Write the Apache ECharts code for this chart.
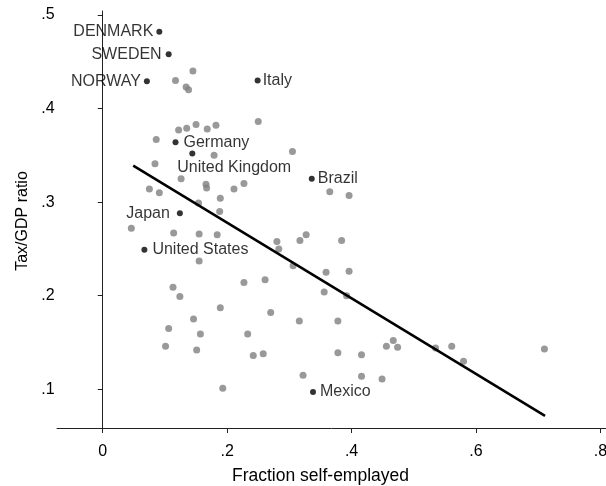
<!DOCTYPE html>
<html>
<head>
<meta charset="utf-8">
<script src="https://cdn.jsdelivr.net/npm/echarts@6/dist/echarts.min.js"></script>
<style>
  html, body { margin: 0; padding: 0; background: #fff; }
  #chart { width: 606px; height: 486px; }
</style>
</head>
<body>
<div id="chart"></div>
<script>
// unlabelled countries [fraction self-employed, tax/GDP]
var otherPoints = [
  [0.117, 0.430], [0.145, 0.440], [0.134, 0.423], [0.138, 0.420], [0.250, 0.386],
  [0.122, 0.377], [0.135, 0.379], [0.150, 0.383], [0.168, 0.378], [0.182, 0.382],
  [0.086, 0.367], [0.179, 0.350], [0.305, 0.354], [0.084, 0.341], [0.365, 0.311],
  [0.396, 0.307], [0.126, 0.325], [0.166, 0.319], [0.167, 0.315], [0.211, 0.314],
  [0.227, 0.320], [0.075, 0.314], [0.091, 0.310], [0.189, 0.304], [0.154, 0.299],
  [0.188, 0.290], [0.046, 0.272], [0.114, 0.267], [0.155, 0.266], [0.184, 0.265],
  [0.155, 0.237], [0.280, 0.258], [0.283, 0.250], [0.317, 0.259], [0.327, 0.265],
  [0.384, 0.259], [0.306, 0.232], [0.359, 0.225], [0.396, 0.226], [0.356, 0.204],
  [0.392, 0.200], [0.227, 0.214], [0.261, 0.217], [0.113, 0.209], [0.124, 0.199],
  [0.189, 0.187], [0.146, 0.175], [0.270, 0.182], [0.316, 0.173], [0.378, 0.173],
  [0.106, 0.165], [0.157, 0.159], [0.233, 0.159], [0.101, 0.146], [0.151, 0.142],
  [0.242, 0.136], [0.258, 0.138], [0.378, 0.139], [0.322, 0.115], [0.193, 0.101],
  [0.467, 0.152], [0.456, 0.146], [0.474, 0.145], [0.535, 0.144], [0.561, 0.146],
  [0.580, 0.130], [0.710, 0.143], [0.416, 0.137], [0.416, 0.114], [0.449, 0.111]
];

// labelled countries
var names = ["DENMARK", "SWEDEN", "NORWAY", "Italy", "Germany", "United Kingdom",
             "Brazil", "Japan", "United States", "Mexico"];
var namedX = [0.091, 0.106, 0.071, 0.249, 0.117, 0.144, 0.336, 0.124, 0.067, 0.338];
var namedY = [0.482, 0.458, 0.429, 0.430, 0.364, 0.352, 0.325, 0.288, 0.249, 0.097];

// fitted line end points
var fitX = [0.049, 0.711];
var fitY = [0.339, 0.0715];

var xTicks = [0, 0.2, 0.4, 0.6, 0.8];
var yTicks = [0.1, 0.2, 0.3, 0.4, 0.5];

// where each label sits (style only)
var labelPos = {
  "DENMARK": { position: "left", distance: 3 },
  "SWEDEN": { position: "left", distance: 4 },
  "NORWAY": { position: "left", distance: 3 },
  "Italy": { position: "right", distance: 2 },
  "Germany": { position: "right", distance: 5 },
  "United Kingdom": { position: "right", distance: 5, offset: [-23, 14] },
  "Brazil": { position: "right", distance: 3 },
  "Japan": { position: "left", distance: 7 },
  "United States": { position: "right", distance: 5 },
  "Mexico": { position: "right", distance: 4 }
};

var FONT = "'Liberation Sans', Arial, sans-serif";

function tickText(v) {
  if (Math.abs(v) < 1e-9) return "0";
  return String(+v.toFixed(2)).replace(/^0\./, ".");
}

var namedData = names.map(function (n, i) {
  var p = labelPos[n];
  return {
    name: n,
    value: [namedX[i], namedY[i]],
    label: { position: p.position, distance: p.distance, offset: p.offset || [0, 0] }
  };
});

var chart = echarts.init(document.getElementById("chart"), null, { renderer: "canvas" });

chart.setOption({
  animation: false,
  backgroundColor: "#fff",
  grid: { left: 57, right: 0, top: 11, bottom: 55, containLabel: false, outerBoundsMode: "none" },
  xAxis: {
    type: "value",
    min: -0.0735,
    max: 0.809,
    offset: -3,
    name: "Fraction self-emplayed",
    nameLocation: "middle",
    nameGap: 39,
    nameTextStyle: { fontFamily: FONT, fontSize: 17.5, color: "#000", padding: [0, 22, 0, 0] },
    axisLine: { show: true, lineStyle: { color: "#222", width: 1 } },
    axisTick: { show: true, customValues: xTicks, length: 5, lineStyle: { color: "#222" } },
    axisLabel: {
      customValues: xTicks, formatter: tickText, margin: 16,
      fontFamily: FONT, fontSize: 16, color: "#000"
    },
    splitLine: { show: false }
  },
  yAxis: {
    type: "value",
    min: 0.0554,
    max: 0.5042,
    offset: -5.7,
    name: "Tax/GDP ratio",
    nameLocation: "middle",
    nameGap: 24,
    nameTextStyle: { fontFamily: FONT, fontSize: 16, color: "#000" },
    axisLine: { show: true, lineStyle: { color: "#222", width: 1 } },
    axisTick: { show: true, customValues: yTicks, length: 5, lineStyle: { color: "#222" } },
    axisLabel: {
      customValues: yTicks, formatter: tickText, margin: 8,
      fontFamily: FONT, fontSize: 16, color: "#000"
    },
    splitLine: { show: false }
  },
  series: [
    {
      type: "scatter",
      data: otherPoints,
      symbolSize: 7,
      itemStyle: { color: "#808080" },
      z: 2
    },
    {
      type: "line",
      data: fitX.map(function (x, i) { return [x, fitY[i]]; }),
      symbol: "none",
      lineStyle: { color: "#000", width: 2.5 },
      z: 3
    },
    {
      type: "scatter",
      data: namedData,
      symbolSize: 6,
      itemStyle: { color: "#000" },
      label: {
        show: true,
        formatter: "{b}",
        fontFamily: FONT,
        fontSize: 16,
        color: "#000"
      },
      z: 4
    }
  ]
});
</script>
</body>
</html>
